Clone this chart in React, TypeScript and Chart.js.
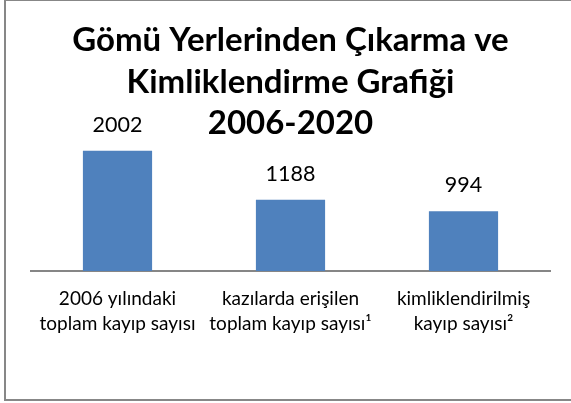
import React, { useEffect, useRef } from "react";
import { Chart, registerables } from "chart.js";

Chart.register(...registerables);

const titleLines = ["Gömü Yerlerinden Çıkarma ve", "Kimliklendirme Grafiği", "2006-2020"];
const categories: string[][] = [
  ["2006 yılındaki", "toplam kayıp sayısı"],
  ["kazılarda erişilen", "toplam kayıp sayısı¹"],
  ["kimliklendirilmiş", "kayıp sayısı²"],
];
const values = [2002, 1188, 994];

const FONT = "Lato";

const framePlugin = {
  id: "frame",
  beforeDraw(chart: any) {
    const ctx = chart.ctx;
    ctx.save();
    ctx.fillStyle = "#ffffff";
    ctx.fillRect(0, 0, chart.width, chart.height);
    ctx.strokeStyle = "#878787";
    ctx.lineWidth = 2;
    ctx.strokeRect(5, 0, chart.width + 20, 400);
    ctx.restore();
  },
};

const valueLabelPlugin = {
  id: "valueLabels",
  afterDatasetsDraw(chart: any) {
    const ctx = chart.ctx;
    const meta = chart.getDatasetMeta(0);
    const data = chart.data.datasets[0].data;
    ctx.save();
    ctx.font = `21.5px ${FONT}`;
    ctx.fillStyle = "#000000";
    ctx.textAlign = "center";
    ctx.textBaseline = "alphabetic";
    meta.data.forEach((bar: any, i: number) => {
      ctx.fillText(String(data[i]), bar.x, bar.y - 19);
    });
    ctx.restore();
  },
};

export default function App() {
  const ref = useRef<HTMLCanvasElement | null>(null);
  useEffect(() => {
    document.body.style.margin = "0";
    const canvas = ref.current;
    if (!canvas) return;
    const chart = new Chart(canvas, {
      type: "bar",
      data: {
        labels: categories,
        datasets: [
          {
            data: values,
            backgroundColor: "#4F81BD",
            borderWidth: 0,
            barPercentage: 0.4,
            categoryPercentage: 1,
          },
        ],
      },
      options: {
        animation: false,
        responsive: false,
        layout: { padding: { left: 31, right: 21, top: 0, bottom: 52 } },
        plugins: {
          legend: { display: false },
          tooltip: { enabled: false },
          title: {
            display: true,
            text: titleLines,
            color: "#000000",
            font: { family: FONT, size: 33, weight: "bold", lineHeight: 1.27 },
            padding: { top: 19, bottom: 0 },
          },
        },
        scales: {
          x: {
            grid: { display: false, drawTicks: false },
            border: { display: true, color: "#868686", width: 2 },
            ticks: {
              color: "#000000",
              padding: 15,
              maxRotation: 0,
              autoSkip: false,
              font: { family: FONT, size: 19, lineHeight: 1.316 },
            },
          },
          y: {
            display: false,
            min: 0,
            max: 2102,
          },
        },
      },
      plugins: [framePlugin, valueLabelPlugin],
    });
    return () => chart.destroy();
  }, []);
  return <canvas ref={ref} width={571} height={403} style={{ display: "block" }} />;
}
